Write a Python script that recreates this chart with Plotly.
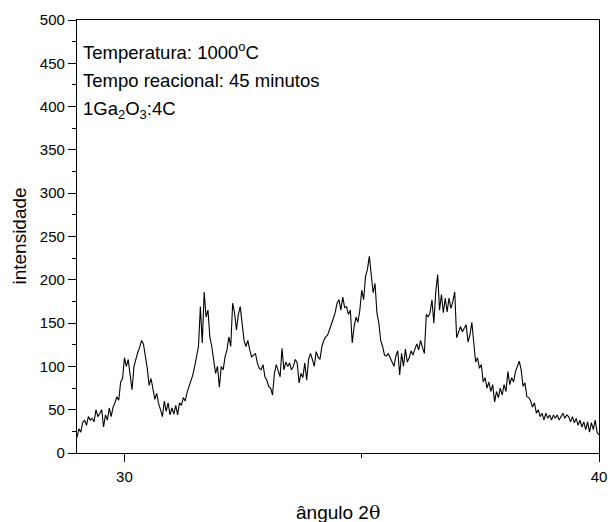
import numpy as np
import plotly.graph_objects as go

# Diffractogram: 2-theta from 29.00 to 40.00 in 0.04 degree steps
theta_start = 29.0
theta_step = 0.04
intensity = [
    18, 28, 24, 35, 38, 32, 42, 38, 40, 36,
    50, 42, 46, 50, 30, 44, 38, 52, 42, 53,
    58, 65, 61, 82, 86, 110, 100, 108, 90, 73,
    100, 110, 116, 122, 130, 126, 112, 98, 78, 86,
    74, 62, 69, 57, 50, 42, 60, 48, 58, 44,
    52, 45, 55, 44, 58, 55, 64, 60, 70, 77,
    82, 90, 100, 112, 123, 169, 127, 186, 157, 165,
    134, 123, 104, 92, 100, 76, 100, 96, 111, 119,
    134, 123, 173, 162, 142, 160, 169, 150, 130, 123,
    130, 119, 111, 113, 115, 104, 98, 96, 102, 88,
    84, 77, 75, 67, 92, 102, 96, 88, 121, 96,
    105, 100, 104, 96, 100, 108, 104, 81, 92, 87,
    104, 84, 108, 115, 108, 100, 117, 111, 108, 123,
    130, 134, 136, 142, 147, 155, 162, 173, 177, 165,
    180, 168, 169, 160, 165, 127, 146, 157, 151, 165,
    188, 177, 204, 212, 227, 204, 185, 196, 162, 150,
    130, 123, 113, 112, 115, 110, 104, 100, 112, 118,
    90, 115, 100, 120, 105, 110, 118, 113, 120, 126,
    119, 130, 122, 115, 160, 157, 162, 177, 150, 186,
    206, 165, 183, 162, 179, 163, 179, 167, 175, 186,
    133, 140, 146, 140, 144, 148, 128, 136, 151, 128,
    105, 110, 98, 102, 82, 87, 75, 82, 71, 79,
    59, 71, 64, 75, 67, 79, 71, 94, 79, 87,
    82, 94, 100, 106, 96, 77, 81, 65, 64, 60,
    53, 58, 46, 50, 42, 46, 38, 46, 40, 44,
    38, 44, 40, 44, 38, 42, 46, 40, 44, 42,
    36, 42, 35, 40, 32, 38, 30, 36, 27, 36,
    24, 35, 27, 38, 24, 21,
]
two_theta = theta_start + theta_step * np.arange(len(intensity))

annotation_lines = [
    "Temperatura: 1000<sup>o</sup>C",
    "Tempo reacional: 45 minutos",
    "1Ga<sub>2</sub>O<sub>3</sub>:4C",
]
x_title = 'ângulo 2<span style="font-family:\'DejaVu Serif\', serif">θ</span>'
y_title = "intensidade"

FONT = "Arial, Liberation Sans, sans-serif"

fig = go.Figure()
fig.add_trace(go.Scatter(
    x=two_theta, y=intensity, mode="lines",
    line=dict(color="black", width=1.1),
    showlegend=False, hoverinfo="skip",
))

for k, txt in enumerate(annotation_lines):
    fig.add_annotation(
        x=0.008, y=0.928 - k * 0.068, xref="paper", yref="paper",
        xanchor="left", yanchor="middle", showarrow=False,
        text=txt, font=dict(family=FONT, size=18.5, color="black"),
    )

# Axis titles placed as paper annotations below / left of the frame
fig.add_annotation(
    x=0.5, y=-0.136, xref="paper", yref="paper",
    xanchor="center", yanchor="middle", showarrow=False,
    text=x_title, font=dict(family=FONT, size=19, color="black"),
)
fig.add_annotation(
    x=-0.111, y=0.5, xref="paper", yref="paper",
    xanchor="center", yanchor="middle", showarrow=False, textangle=-90,
    text=y_title, font=dict(family=FONT, size=19, color="black"),
)

axis_common = dict(
    showgrid=False, zeroline=False, showline=True, mirror=True,
    linecolor="black", linewidth=1.2, ticks="outside", tickcolor="black",
    ticklen=8, tickwidth=1.2, automargin=False,
    tickfont=dict(family=FONT, size=15, color="black"),
)

fig.update_layout(
    width=610, height=522,
    margin=dict(l=77, r=11, t=20, b=69),
    paper_bgcolor="white", plot_bgcolor="white",
    xaxis=dict(
        range=[29, 40], tickvals=[30, 40], ticklabelstandoff=2,
        minor=dict(tickvals=[35], ticks="outside", ticklen=4, tickcolor="black"),
        **axis_common,
    ),
    yaxis=dict(
        range=[0, 500], dtick=50,
        minor=dict(dtick=25, ticks="outside", ticklen=4, tickcolor="black"),
        **axis_common,
    ),
)

fig.write_html("out.html")
